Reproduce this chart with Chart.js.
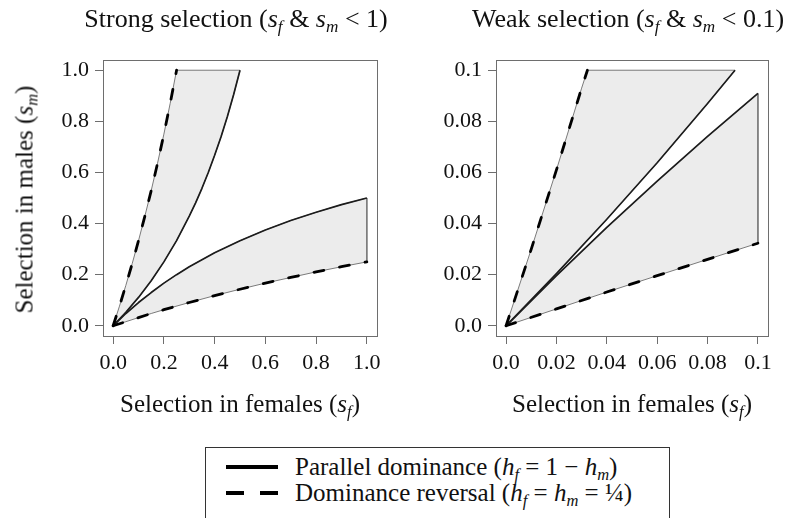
<!DOCTYPE html>
<html>
<head>
<meta charset="utf-8">
<script src="https://cdn.jsdelivr.net/npm/chart.js@4.4.1/dist/chart.umd.min.js"></script>
<style>
  body { margin:0; background:#fff; width:791px; height:518px; overflow:hidden; position:relative;
         font-family:'Liberation Serif','Times New Roman',serif; color:#111; }
  canvas { position:absolute; top:0; }
  .lbl { position:absolute; font-size:25px; line-height:28px; white-space:nowrap; text-align:center; }
  .ttl { font-size:26px; }
  .s { font-size:0.66em; position:relative; top:0.3em; font-style:italic; }
  i { font-style:italic; }
  #legend { position:absolute; left:205px; top:447px; width:463px; height:90px; border:1px solid #333; }
  .row { position:absolute; left:0; height:28px; font-size:25px; line-height:28px; white-space:nowrap; }
  .key { position:absolute; left:20px; top:12px; height:4px; background:#000; }
</style>
</head>
<body>

<canvas id="strong" width="395" height="420" style="left:0;width:395px;height:420px"></canvas>
<canvas id="weak" width="396" height="420" style="left:395px;width:396px;height:420px"></canvas>

<div class="lbl ttl" style="left:36px;width:400px;top:5px">Strong selection (<i>s</i><span class="s">f</span> &amp; <i>s</i><span class="s">m</span> &lt; 1)</div>
<div class="lbl ttl" style="left:428px;width:400px;top:5px">Weak selection (<i>s</i><span class="s">f</span> &amp; <i>s</i><span class="s">m</span> &lt; 0.1)</div>
<div class="lbl" style="left:40px;width:400px;top:390px">Selection in females (<i>s</i><span class="s">f</span>)</div>
<div class="lbl" style="left:432px;width:400px;top:390px">Selection in females (<i>s</i><span class="s">f</span>)</div>
<div class="lbl" style="left:-174px;width:400px;top:184px;transform:rotate(-90deg)">Selection in males (<i>s</i><span class="s">m</span>)</div>

<div id="legend">
  <div class="row" style="top:5px">
    <div class="key" style="width:52px"></div>
    <span style="position:absolute;left:89px">Parallel dominance (<i>h</i><span class="s">f</span> = 1 &minus; <i>h</i><span class="s">m</span>)</span>
  </div>
  <div class="row" style="top:31px">
    <div class="key" style="width:18px"></div>
    <div class="key" style="left:54px;width:18px"></div>
    <span style="position:absolute;left:89px">Dominance reversal (<i>h</i><span class="s">f</span> = <i>h</i><span class="s">m</span> = &frac14;)</span>
  </div>
</div>

<script>
// ─── DATA (sf on x, sm on y) ──────────────────────────────────
const strongTicks      = [0, 0.2, 0.4, 0.6, 0.8, 1.0];
const strongTickLabels = ['0.0', '0.2', '0.4', '0.6', '0.8', '1.0'];
const weakTicks        = [0, 0.02, 0.04, 0.06, 0.08, 0.1];
const weakTickLabels   = ['0.0', '0.02', '0.04', '0.06', '0.08', '0.1'];

// strong selection panel
const strongRevUpperX = [0, 0.025, 0.05, 0.075, 0.1, 0.125, 0.15, 0.175, 0.2, 0.225, 0.25];
const strongRevUpperY = [0, 0.077, 0.158, 0.243, 0.333, 0.429, 0.529, 0.636, 0.75, 0.871, 1.0];
const strongParUpperX = [0, 0.05, 0.1, 0.15, 0.2, 0.25, 0.3, 0.325, 0.35, 0.375, 0.4, 0.425, 0.45, 0.475, 0.5];
const strongParUpperY = [0, 0.053, 0.111, 0.176, 0.25, 0.333, 0.429, 0.481, 0.538, 0.6, 0.667, 0.739, 0.818, 0.905, 1.0];
const strongParLowerX = [0, 0.025, 0.05, 0.1, 0.15, 0.2, 0.25, 0.3, 0.4, 0.5, 0.6, 0.7, 0.8, 0.9, 1.0];
const strongParLowerY = [0, 0.024, 0.048, 0.091, 0.130, 0.167, 0.2, 0.231, 0.286, 0.333, 0.375, 0.412, 0.444, 0.474, 0.5];
const strongRevLowerX = [0, 0.05, 0.1, 0.15, 0.2, 0.3, 0.4, 0.5, 0.6, 0.7, 0.8, 0.9, 1.0];
const strongRevLowerY = [0, 0.016, 0.032, 0.048, 0.063, 0.091, 0.118, 0.143, 0.167, 0.189, 0.211, 0.231, 0.25];

// weak selection panel
const weakRevUpperX = [0, 0.01, 0.02, 0.03, 0.0323];
const weakRevUpperY = [0, 0.030, 0.061, 0.093, 0.1];
const weakParUpperX = [0, 0.02, 0.04, 0.06, 0.08, 0.0909];
const weakParUpperY = [0, 0.0204, 0.0417, 0.0638, 0.087, 0.1];
const weakParLowerX = [0, 0.02, 0.04, 0.06, 0.08, 0.1];
const weakParLowerY = [0, 0.0196, 0.0385, 0.0566, 0.0741, 0.0909];
const weakRevLowerX = [0, 0.02, 0.04, 0.06, 0.08, 0.1];
const weakRevLowerY = [0, 0.0066, 0.0132, 0.0196, 0.026, 0.0323];

// ─── STYLE ────────────────────────────────────────────────────
const FRAME = '#6e6e6e';
const FILL  = '#ececec';
const TICK_FONT = { family: "'Liberation Serif', serif", size: 22 };

const pts = (xs, ys) => xs.map((x, i) => ({ x, y: ys[i] }));

const boxPlugin = {
  id: 'box',
  afterDraw(chart) {
    const { ctx, chartArea: a } = chart;
    ctx.save();
    ctx.strokeStyle = FRAME;
    ctx.lineWidth = 1;
    ctx.strokeRect(Math.round(a.left) + 0.5, Math.round(a.top) + 0.5,
                   Math.round(a.right - a.left), Math.round(a.bottom - a.top));
    ctx.restore();
  }
};

function axis(max, ticks, labels, size, horizontal) {
  const pad = max * 0.04;
  return {
    type: 'linear',
    min: -pad,
    max: max + pad,
    afterBuildTicks: s => { s.ticks = ticks.map(v => ({ value: v })); },
    afterFit: s => {
      if (horizontal) { s.height = size; s.paddingLeft = 0; s.paddingRight = 0; }
      else            { s.width = size;  s.paddingTop = 0;  s.paddingBottom = 0; }
    },
    ticks: {
      autoSkip: false, maxRotation: 0, minRotation: 0,
      color: '#111', font: TICK_FONT,
      padding: 6,
      callback: (v, i) => labels[i]
    },
    grid: { drawOnChartArea: false, drawTicks: true, tickLength: 8, color: FRAME, lineWidth: 1 },
    border: { display: false }
  };
}

function makePanel(id, d) {
  const upperPoly = pts(d.revUpperX, d.revUpperY).concat(pts(d.parUpperX, d.parUpperY).reverse());
  const lowerPoly = pts(d.parLowerX, d.parLowerY).concat(pts(d.revLowerX, d.revLowerY).reverse());
  const fillSet = data => ({ data, fill: 'shape', backgroundColor: FILL, borderColor: '#7a7a7a',
                             borderWidth: 1, pointRadius: 0, order: 3 });
  const solid = data => ({ data, fill: false, borderColor: '#1c1c1c', borderWidth: 1.7,
                           pointRadius: 0, order: 2 });
  const dashed = data => ({ data, fill: false, borderColor: '#000', borderWidth: 2.8,
                            borderDash: [10, 16], borderCapStyle: 'round', pointRadius: 0, order: 1 });

  return new Chart(document.getElementById(id), {
    type: 'line',
    data: {
      datasets: [
        fillSet(upperPoly),
        fillSet(lowerPoly),
        solid(pts(d.parUpperX, d.parUpperY)),
        solid(pts(d.parLowerX, d.parLowerY)),
        dashed(pts(d.revUpperX, d.revUpperY)),
        dashed(pts(d.revLowerX, d.revLowerY))
      ]
    },
    options: {
      responsive: false,
      animation: false,
      events: [],
      layout: { padding: { top: 60, right: d.padRight, left: 0, bottom: 0 } },
      elements: { line: { tension: 0, borderJoinStyle: 'round' } },
      plugins: { legend: { display: false }, tooltip: { enabled: false } },
      scales: {
        x: axis(d.max, d.ticks, d.labels, 84, true),
        y: axis(d.max, d.ticks, d.labels, d.yWidth, false)
      }
    },
    plugins: [boxPlugin]
  });
}

makePanel('strong', {
  max: 1, ticks: strongTicks, labels: strongTickLabels, yWidth: 103, padRight: 18,
  revUpperX: strongRevUpperX, revUpperY: strongRevUpperY,
  parUpperX: strongParUpperX, parUpperY: strongParUpperY,
  parLowerX: strongParLowerX, parLowerY: strongParLowerY,
  revLowerX: strongRevLowerX, revLowerY: strongRevLowerY
});

makePanel('weak', {
  max: 0.1, ticks: weakTicks, labels: weakTickLabels, yWidth: 101, padRight: 23,
  revUpperX: weakRevUpperX, revUpperY: weakRevUpperY,
  parUpperX: weakParUpperX, parUpperY: weakParUpperY,
  parLowerX: weakParLowerX, parLowerY: weakParLowerY,
  revLowerX: weakRevLowerX, revLowerY: weakRevLowerY
});
</script>
</body>
</html>
